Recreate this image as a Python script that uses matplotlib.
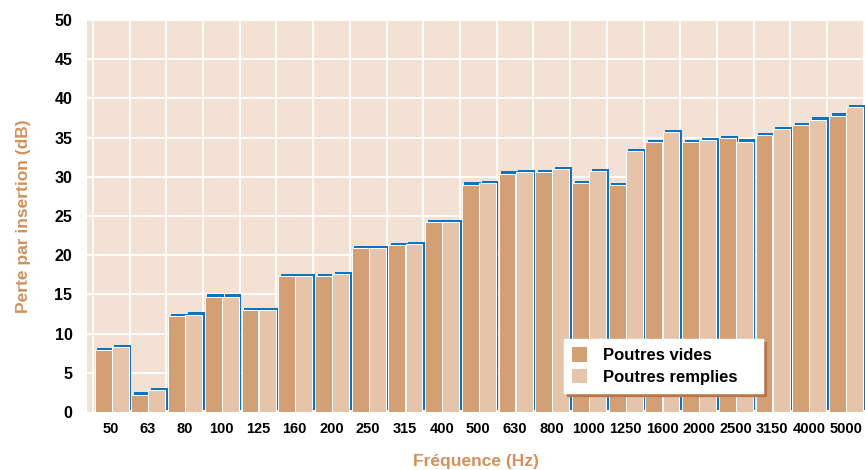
import numpy as np
import matplotlib
matplotlib.use("Agg")
import matplotlib.pyplot as plt
from matplotlib.transforms import offset_copy
from matplotlib.patches import Patch

# frequencies (Hz) and insertion loss (dB)
freqs = ["50", "63", "80", "100", "125", "160", "200", "250", "315", "400", "500",
         "630", "800", "1000", "1250", "1600", "2000", "2500", "3150", "4000", "5000"]
vides = [7.9, 2.2, 12.2, 14.7, 13.0, 17.3, 17.3, 20.9, 21.3, 24.2, 29.0,
         30.4, 30.6, 29.2, 28.9, 34.4, 34.4, 34.9, 35.3, 36.6, 37.8]
remplies = [8.3, 2.8, 12.4, 14.7, 13.0, 17.3, 17.6, 20.9, 21.4, 24.2, 29.2,
            30.6, 31.0, 30.7, 33.3, 35.7, 34.7, 34.5, 36.1, 37.3, 38.9]

col_vides = "#d39f74"
col_remplies = "#e5c4aa"
col_bg = "#f2e1d4"
col_shadow = "#0a74c4"
col_label = "#d0915c"

plt.rcParams['font.family'] = ['Liberation Sans', 'DejaVu Sans']

fig = plt.figure(figsize=(8.65, 4.7), dpi=100)
ax = fig.add_axes([87/865, 1-412/470, 1-87/865, (412-20)/470])
ax.set_facecolor(col_bg)

x = np.arange(len(freqs))
w = 0.46
# blue "shadow" behind each bar, shifted up-right
shift = offset_copy(ax.transData, fig=fig, x=2.6, y=2.4, units='dots')

ax.bar(x + 0.28, vides, w, color=col_shadow, transform=shift, zorder=2, linewidth=0)
ax.bar(x + 0.28, vides, w, color=col_vides, edgecolor="white", linewidth=0.7, zorder=3)
ax.bar(x + 0.745, remplies, w, color=col_shadow, transform=shift, zorder=4, linewidth=0)
ax.bar(x + 0.745, remplies, w, color=col_remplies, edgecolor="white", linewidth=0.7, zorder=5)

# white grid
for i in range(len(freqs) + 1):
    ax.axvline(i, color="white", lw=1.3, zorder=1)
for v in range(5, 55, 5):
    ax.axhline(v, color="white", lw=1.3, zorder=1)

ax.set_xlim(-0.16, 21.03)
ax.set_ylim(0, 50)
ax.set_xticks(x + 0.5)
ax.set_xticklabels(freqs, fontsize=10.5, fontweight="bold")
ax.set_yticks(range(0, 55, 5))
ax.set_yticklabels([str(v) for v in range(0, 55, 5)], fontsize=11.5, fontweight="bold")
ax.tick_params(length=0)
ax.tick_params(axis="y", pad=10.5)
ax.tick_params(axis="x", pad=7)
for s in ax.spines.values():
    s.set_visible(False)

ax.set_xlabel("Fréquence (Hz)", fontsize=12.5, fontweight="bold", color=col_label, labelpad=13)
ax.set_ylabel("Perte par insertion (dB)", fontsize=12.5, fontweight="bold", color=col_label, labelpad=17)

handles = [Patch(facecolor=col_vides, edgecolor="none"),
           Patch(facecolor=col_remplies, edgecolor="none")]
leg = ax.legend(handles, ["Poutres vides", "Poutres remplies"], loc="lower left",
                bbox_to_anchor=((564-87)/778, (412-393)/392, (763-564)/778, (393-337)/392),
                mode="expand", borderaxespad=0, fancybox=False,
                shadow={'color': '#b8764a', 'alpha': 1},
                framealpha=1, edgecolor="white", borderpad=0.5, handlelength=0.85,
                handleheight=1.0, handletextpad=1.0, labelspacing=0.3,
                prop={'weight': 'bold', 'size': 12})
leg.set_zorder(10)

fig.savefig("out.png", dpi=100)
